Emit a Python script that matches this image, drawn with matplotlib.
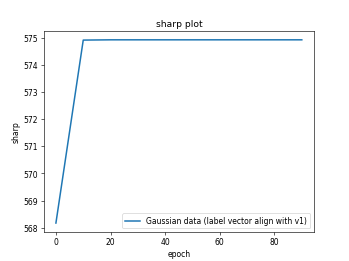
import matplotlib
matplotlib.use("Agg")
from matplotlib import pyplot as plt

epochs = [0, 10, 20, 30, 40, 50, 60, 70, 80, 90]
sharp = [568.17, 574.91, 574.92, 574.92, 574.92, 574.92, 574.92, 574.92, 574.92, 574.92]

plt.figure(figsize=(6.4, 4.8), dpi=349 / 6.4)
plt.plot(epochs, sharp, linewidth=2, label='Gaussian data (label vector align with v1)')
plt.xlabel('epoch')
plt.ylabel('sharp')
plt.title('sharp plot')
plt.legend(loc='lower right')
plt.savefig('out.png')
